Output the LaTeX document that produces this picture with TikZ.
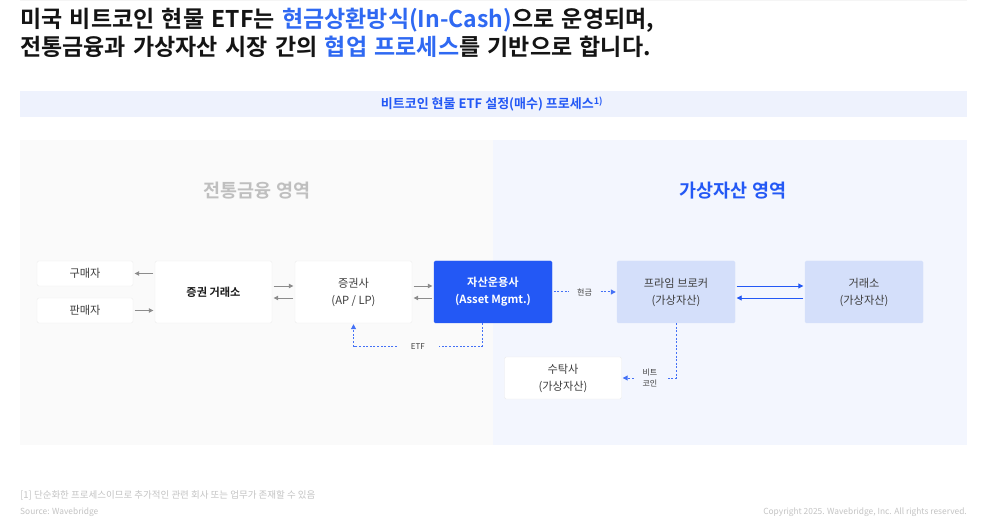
\documentclass[tikz,border=0pt]{standalone}
\usepackage{fontspec}
\setmainfont{Noto Sans CJK KR}[BoldFont={* Bold}]
\usetikzlibrary{arrows.meta}

\definecolor{wbblue}{HTML}{2358F5}
\definecolor{titleblue}{HTML}{2F69F2}
\definecolor{pbfill}{HTML}{D4DFFA}
\definecolor{leftbg}{HTML}{FAFAFA}
\definecolor{rightbg}{HTML}{F3F6FE}
\definecolor{bandbg}{HTML}{EEF2FD}
\definecolor{arrgray}{HTML}{8C8C8C}
\definecolor{txtgray}{HTML}{3E3E3E}
\definecolor{notegray}{HTML}{C4C4C4}

\newcommand{\widespaces}{\spaceskip=7.4pt plus 1pt\relax}

\begin{document}
\begin{tikzpicture}[x=1pt, y=-1pt,
    box/.style={draw=black!7, fill=white, rounded corners=1.5pt, align=center,
        text=txtgray, inner sep=0pt, font=\fontsize{11.2}{17}\selectfont},
    garrow/.style={draw=arrgray, line width=0.8pt, -{Triangle[length=4.5pt,width=4.5pt]},
        shorten >=1.5pt, shorten <=1.5pt},
    barrow/.style={draw=wbblue, line width=0.9pt, -{Triangle[length=5pt,width=5pt]},
        shorten >=1.5pt, shorten <=1.5pt},
    darrow/.style={draw=wbblue!85, line width=1pt, dash pattern=on 2pt off 1.6pt,
        -{Triangle[length=5pt,width=5pt]}},
    lbl/.style={text=txtgray, font=\fontsize{8}{10.5}\selectfont, align=center, inner ysep=1pt},
    headline/.style={anchor=base west, inner sep=0pt, text=black!92,
        font=\fontsize{23}{28}\selectfont\bfseries}
]
    \useasboundingbox (0,0) rectangle (987,526);
    \fill[white] (0,0) rectangle (987,526);
    \draw[black!4, line width=0.6pt] (20,0.5) -- (967,0.5);

    % title
    \node[headline] (title1) at (20,27.5)
        {\widespaces 미국 비트코인 현물 ETF는 \textcolor{titleblue}{현금상환방식(In-Cash)}으로 운영되며,};
    \node[headline] (title2) at (20,55.5)
        {\widespaces 전통금융과 가상자산 시장 간의 \textcolor{titleblue}{협업 프로세스}를 기반으로 합니다.};

    % header band
    \fill[bandbg] (20,91) rectangle (967,117);
    \node[text=wbblue, font=\fontsize{13}{15}\selectfont\bfseries] (band) at (492,104)
        {비트코인 현물 ETF 설정(매수) 프로세스\textsuperscript{1)}};

    % panels
    \fill[leftbg] (20,140) rectangle (493,445);
    \fill[rightbg] (493,140) rectangle (967,445);
    \node[text=black!25, font=\fontsize{18.5}{22}\selectfont\bfseries] (tradfi) at (257,191) {전통금융 영역};
    \node[text=wbblue, font=\fontsize{18.5}{22}\selectfont\bfseries] (crypto) at (733,191) {가상자산 영역};

    % boxes
    \node[box, minimum width=96pt, minimum height=25pt] (buyer) at (85,273.5) {구매자};
    \node[box, minimum width=96pt, minimum height=25pt] (seller) at (85,310.5) {판매자};
    \node[box, minimum width=117pt, minimum height=62pt, font=\fontsize{11.2}{17}\selectfont\bfseries, text=black!90] (exch) at (213.5,292) {증권 거래소};
    \node[box, minimum width=117pt, minimum height=62pt] (ap) at (353.5,292) {증권사\\(AP / LP)};
    \node[box, minimum width=118pt, minimum height=62pt, fill=wbblue, draw=wbblue, text=white, font=\fontsize{11.2}{17}\selectfont\bfseries] (ams) at (493,292) {자산운용사\\(Asset Mgmt.)};
    \node[box, minimum width=118pt, minimum height=62pt, fill=pbfill, draw=pbfill] (pb) at (676,292) {프라임 브로커\\(가상자산)};
    \node[box, minimum width=118pt, minimum height=62pt, fill=pbfill, draw=pbfill] (cex) at (864,292) {거래소\\(가상자산)};
    \node[box, minimum width=117pt, minimum height=42pt] (cust) at (563,378) {수탁사\\(가상자산)};

    % traditional side
    \draw[garrow] (exch.west |- buyer.east) -- (buyer.east);
    \draw[garrow] (seller.east) -- (exch.west |- seller.east);
    \draw[garrow] ([yshift=6pt]exch.east) -- ([yshift=6pt]ap.west);
    \draw[garrow] ([yshift=-6pt]ap.west) -- ([yshift=-6pt]exch.east);
    \draw[garrow] ([yshift=6pt]ap.east) -- ([yshift=6pt]ams.west);
    \draw[garrow] ([yshift=-6pt]ams.west) -- ([yshift=-6pt]ap.east);
    \draw[darrow] ([xshift=-11pt]ams.south) -- ++(0,23) coordinate (etfr)
        -- node[lbl, fill=leftbg, inner xsep=14pt] (etf) {ETF} (etfr -| ap.south) -- ([yshift=-1pt]ap.south);

    % crypto side
    \draw[darrow, shorten <=1.5pt, shorten >=1pt] (ams.east) -- node[lbl, fill=rightbg, inner xsep=8pt] (cash) {현금} (pb.west);
    \draw[barrow] ([yshift=6pt]pb.east) -- ([yshift=6pt]cex.west);
    \draw[barrow] ([yshift=-6pt]cex.west) -- ([yshift=-6pt]pb.east);
    \draw[darrow, shorten >=1pt] (pb.south) |- node[lbl, pos=0.74, fill=rightbg, inner xsep=9pt] (btc) {비트\\코인} (cust.east);

    % notes
    \node[anchor=west, inner sep=0pt, text=notegray, font=\fontsize{9.5}{11}\selectfont] (note) at (20,495)
        {[1] 단순화한 프로세스이므로 추가적인 관련 회사 또는 업무가 존재할 수 있음};
    \node[anchor=west, inner sep=0pt, text=notegray, font=\fontsize{8.4}{10}\selectfont] (source) at (20,512)
        {Source: Wavebridge};
    \node[anchor=east, inner sep=0pt, text=notegray, font=\fontsize{8.4}{10}\selectfont] (copy) at (967,512)
        {Copyright 2025. Wavebridge, Inc. All rights reserved.};
\end{tikzpicture}
\end{document}
